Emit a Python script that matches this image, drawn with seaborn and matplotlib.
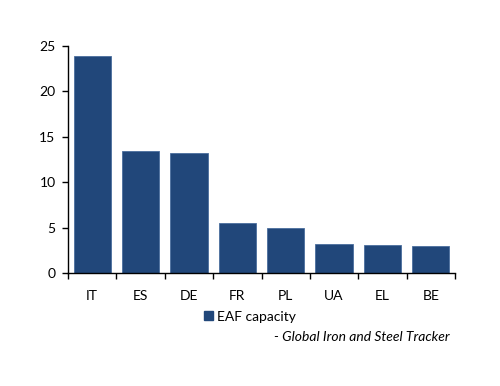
import numpy as np
import pandas as pd
import matplotlib
matplotlib.use('Agg')
import matplotlib.pyplot as plt
import seaborn as sns
from matplotlib.patches import Patch

countries = ['IT', 'ES', 'DE', 'FR', 'PL', 'UA', 'EL', 'BE']
eaf_capacity = [23.9, 13.4, 13.2, 5.5, 4.9, 3.2, 3.1, 2.95]
series_name = 'EAF capacity'
source_note = '- Global Iron and Steel Tracker'

bar_color = '#21477A'

sns.set_style('white')
plt.rcParams['font.family'] = ['Lato', 'DejaVu Sans']
plt.rcParams['text.color'] = 'black'
plt.rcParams['xtick.color'] = 'black'
plt.rcParams['ytick.color'] = 'black'

df = pd.DataFrame({'country': countries, 'capacity': eaf_capacity})

fig = plt.figure(figsize=(5, 3.86), dpi=100)
ax = fig.add_axes([0.136, 0.293, 0.774, 0.588])

sns.barplot(data=df, x='country', y='capacity', color=bar_color, saturation=1,
            width=0.77, edgecolor='#4A6E9E', linewidth=0.6, ax=ax)

ax.set_ylim(0, 25)
ax.set_xlim(-0.5, len(countries) - 0.5)
ax.set_yticks([0, 5, 10, 15, 20, 25])
ax.set_xlabel('')
ax.set_ylabel('')

for side in ['top', 'right']:
    ax.spines[side].set_visible(False)
for side in ['left', 'bottom']:
    ax.spines[side].set_color('black')
    ax.spines[side].set_linewidth(1.0)

# x ticks sit between the categories, labels sit under the bars
ax.set_xticks(np.arange(-0.5, len(countries), 1.0))
ax.set_xticklabels([])
ax.set_xticks(np.arange(len(countries)), minor=True)
ax.set_xticklabels(countries, minor=True)
ax.tick_params(axis='x', which='major', direction='out', length=4, width=1, color='black', bottom=True)
ax.tick_params(axis='x', which='minor', length=0, labelsize=10, pad=12)
ax.tick_params(axis='y', direction='out', length=4, width=1, color='black', left=True, labelsize=10, pad=5)

handles = [Patch(facecolor=bar_color, edgecolor=bar_color, label=series_name)]
fig.legend(handles=handles, loc='center', bbox_to_anchor=(0.5, 0.18), frameon=False,
           fontsize=10, handlelength=0.6, handleheight=0.6, handletextpad=0.3)

fig.text(0.9, 0.128, source_note, ha='right', va='center', fontsize=10, style='italic')

fig.savefig('out.png', dpi=100)
